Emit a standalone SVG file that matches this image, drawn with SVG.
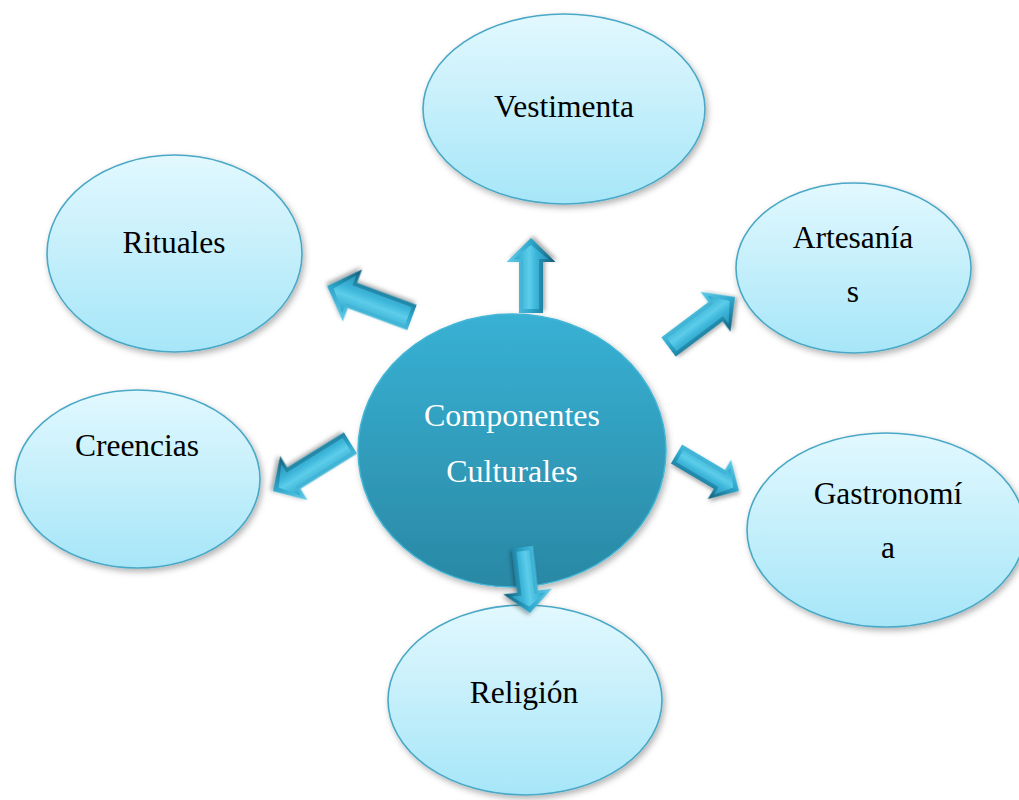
<svg xmlns="http://www.w3.org/2000/svg" width="1019" height="800" viewBox="0 0 1019 800">
<style>
.node{fill:url(#gNode);stroke:#4aa8c6;stroke-width:1.6;filter:url(#sh)}
.lbl{font-family:"Liberation Serif","Times New Roman",serif;font-size:31.5px;fill:#000;text-anchor:middle}
.clbl{font-family:"Liberation Serif","Times New Roman",serif;font-size:32px;fill:#fff;text-anchor:middle}
.aout{fill:url(#gAout);filter:url(#sh2)}
.ain{fill:url(#gAin)}
</style>
<defs>
<linearGradient id="gNode" x1="0" y1="0" x2="0" y2="1">
<stop offset="0" stop-color="#e2f8fe"/>
<stop offset="1" stop-color="#a6e6f8"/>
</linearGradient>
<linearGradient id="gCenter" x1="0" y1="0" x2="0" y2="1">
<stop offset="0" stop-color="#38b1d4"/>
<stop offset="1" stop-color="#2a88a4"/>
</linearGradient>
<linearGradient id="gAout" x1="0" y1="0" x2="0" y2="1">
<stop offset="0" stop-color="#62cde9"/>
<stop offset="0.5" stop-color="#2ea6cb"/>
<stop offset="1" stop-color="#135d78"/>
</linearGradient>
<linearGradient id="gAin" x1="0" y1="0" x2="0" y2="1">
<stop offset="0" stop-color="#2ca4c9"/>
<stop offset="0.45" stop-color="#5ccdea"/>
<stop offset="0.65" stop-color="#3cb5d9"/>
<stop offset="1" stop-color="#2896ba"/>
</linearGradient>
<filter id="sh" x="-10%" y="-10%" width="125%" height="130%">
<feDropShadow dx="2" dy="3" stdDeviation="3" flood-color="#000" flood-opacity="0.3"/>
</filter>
<filter id="sh2" x="-20%" y="-40%" width="150%" height="190%">
<feDropShadow dx="2" dy="2" stdDeviation="2" flood-color="#000" flood-opacity="0.35"/>
</filter>
</defs>

<g id="node-vestimenta">
<ellipse class="node" cx="564" cy="109" rx="141" ry="95"/>
<text class="lbl" x="564" y="117">Vestimenta</text>
</g>
<g id="node-rituales">
<ellipse class="node" cx="174.5" cy="253.5" rx="127.5" ry="98.5"/>
<text class="lbl" x="174" y="253">Rituales</text>
</g>
<g id="node-artesanias">
<ellipse class="node" cx="853.5" cy="268" rx="117.5" ry="85"/>
<text class="lbl" x="853" y="248">Artesanía</text>
<text class="lbl" x="853" y="302">s</text>
</g>
<g id="node-creencias">
<ellipse class="node" cx="137.5" cy="479" rx="122.5" ry="89"/>
<text class="lbl" x="137" y="456">Creencias</text>
</g>
<g id="node-gastronomia">
<ellipse class="node" cx="886" cy="530" rx="139" ry="97"/>
<text class="lbl" x="888" y="504">Gastronomí</text>
<text class="lbl" x="888" y="558">a</text>
</g>
<g id="node-religion">
<ellipse class="node" cx="525" cy="700" rx="137" ry="95"/>
<text class="lbl" x="524" y="703">Religión</text>
</g>
<g id="node-center">
<ellipse cx="512" cy="450.5" rx="154" ry="136.5" fill="url(#gCenter)" stroke="#44b6d6" stroke-width="1.5" filter="url(#sh)"/>
<text class="clbl" x="512" y="426">Componentes</text>
<text class="clbl" x="512" y="482">Culturales</text>
</g>

<g id="connectors">
<g transform="translate(531,313) rotate(-90)">
<polygon class="aout" points="0,-12 51,-12 51,-24.5 75,0 51,24.5 51,12 0,12"/>
<polygon class="ain" points="4,-8 54,-8 54,-17 68,0 54,17 54,8 4,8"/>
</g>
<g transform="translate(412,317.5) rotate(200.3)">
<polygon class="aout" points="0,-13.5 63.5,-13.5 63.5,-27.7 90.6,0 63.5,27.7 63.5,13.5 0,13.5"/>
<polygon class="ain" points="4,-9.5 67,-9.5 67,-20 83.5,0 67,20 67,9.5 4,9.5"/>
</g>
<g transform="translate(668.5,347) rotate(-36.9)">
<polygon class="aout" points="0,-12 58.7,-12 58.7,-25 83.2,0 58.7,25 58.7,12 0,12"/>
<polygon class="ain" points="4,-8 62,-8 62,-17.5 76.5,0 62,17.5 62,8 4,8"/>
</g>
<g transform="translate(350.5,443) rotate(148.2)">
<polygon class="aout" points="0,-12.5 66.6,-12.5 66.6,-26 91.2,0 66.6,26 66.6,12.5 0,12.5"/>
<polygon class="ain" points="4,-8.5 70,-8.5 70,-18.5 84.5,0 70,18.5 70,8.5 4,8.5"/>
</g>
<g transform="translate(676.5,454) rotate(30.6)">
<polygon class="aout" points="0,-11 49.8,-11 49.8,-23 72.6,0 49.8,23 49.8,11 0,11"/>
<polygon class="ain" points="4,-7 53,-7 53,-16 66,0 53,16 53,7 4,7"/>
</g>
<g transform="translate(522.5,547) rotate(83.5)">
<polygon class="aout" points="0,-10.5 44.8,-10.5 44.8,-24.5 66.4,0 44.8,24.5 44.8,10.5 0,10.5"/>
<polygon class="ain" points="4,-6.5 48,-6.5 48,-17 60,0 48,17 48,6.5 4,6.5"/>
</g>
</g>
</svg>
